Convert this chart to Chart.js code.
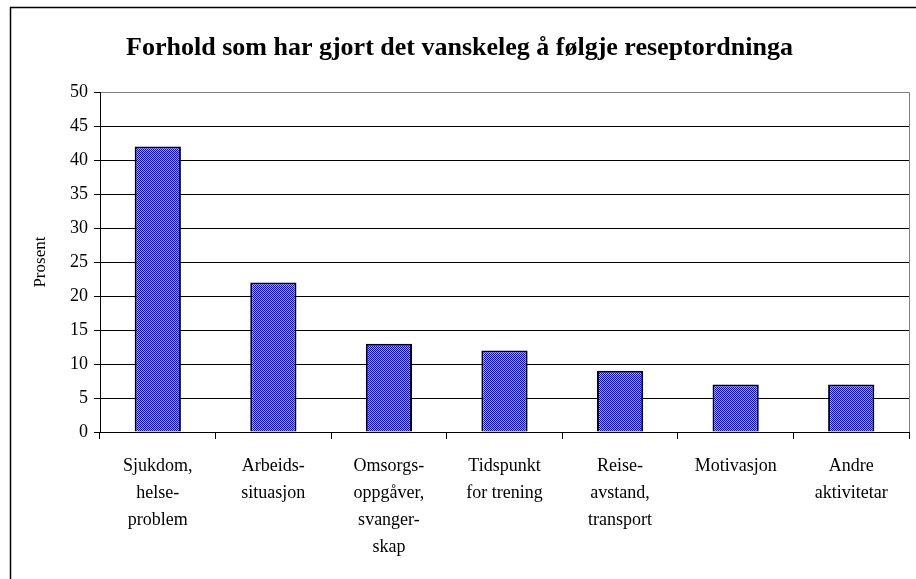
<!DOCTYPE html>
<html>
<head>
<meta charset="utf-8">
<script src="https://cdn.jsdelivr.net/npm/chart.js@4/dist/chart.umd.min.js"></script>
<style>
  html, body { margin: 0; padding: 0; background: #fff; }
  canvas { display: block; }
</style>
</head>
<body>
<canvas id="chart" width="916" height="579"></canvas>
<script>
const categories = [
    ['Sjukdom,', 'helse-', 'problem'],
    ['Arbeids-', 'situasjon'],
    ['Omsorgs-', 'oppgåver,', 'svanger-', 'skap'],
    ['Tidspunkt', 'for trening'],
    ['Reise-', 'avstand,', 'transport'],
    ['Motivasjon'],
    ['Andre', 'aktivitetar'],
];
const prosent = [42, 22, 13, 12, 9, 7, 7];
const yMax = 50;
const yStep = 5;

const serif = "'Liberation Serif', 'Times New Roman', serif";

// blått rutemønster som i originalen
function makePattern() {
    const tile = document.createElement('canvas');
    tile.width = 4;
    tile.height = 4;
    const t = tile.getContext('2d');
    t.fillStyle = '#0000ff';
    t.fillRect(0, 0, 4, 4);
    t.fillStyle = '#b4b4ff';
    for (let y = 0; y < 4; y++) {
        for (let x = 0; x < 4; x++) {
            if ((x + y) % 2 === 1) t.fillRect(x, y, 1, 1);
        }
    }
    return document.getElementById('chart').getContext('2d').createPattern(tile, 'repeat');
}

const frame = {
    id: 'frame',
    beforeDraw(chart) {
        const { ctx } = chart;
        ctx.save();
        ctx.fillStyle = '#fff';
        ctx.fillRect(0, 0, chart.width, chart.height);
        ctx.strokeStyle = '#000';
        ctx.lineWidth = 1.5;
        ctx.strokeRect(10.5, 7.5, 940, 620);
        ctx.restore();
    },
    afterDraw(chart) {
        const { ctx, chartArea: a } = chart;
        ctx.save();
        ctx.strokeStyle = '#808080';
        ctx.lineWidth = 1;
        ctx.beginPath();
        ctx.moveTo(Math.round(a.right) + 0.5, a.top);
        ctx.lineTo(Math.round(a.right) + 0.5, a.bottom);
        ctx.stroke();
        ctx.restore();
    },
};

new Chart(document.getElementById('chart'), {
    type: 'bar',
    data: {
        labels: categories,
        datasets: [{
            data: prosent,
            backgroundColor: makePattern(),
            borderColor: '#000',
            borderWidth: 2,
            barPercentage: 0.4,
            categoryPercentage: 1,
        }],
    },
    options: {
        responsive: false,
        animation: false,
        layout: { padding: { left: 10, right: 7, top: 0, bottom: 0 } },
        plugins: {
            legend: { display: false },
            tooltip: { enabled: false },
            title: {
                display: true,
                text: 'Forhold som har gjort det vanskeleg å følgje reseptordninga',
                color: '#000',
                font: { family: serif, size: 26, weight: 'bold', lineHeight: 1.2 },
                padding: { top: 33, bottom: 28 },
            },
        },
        scales: {
            x: {
                afterFit(scale) { scale.height = 147; },
                grid: {
                    offset: true,
                    drawOnChartArea: false,
                    color: '#000',
                    tickLength: 7,
                },
                border: { color: '#000', width: 1 },
                ticks: {
                    color: '#000',
                    padding: 13.5,
                    maxRotation: 0,
                    autoSkip: false,
                    font: { family: serif, size: 18, lineHeight: 1.5 },
                },
            },
            y: {
                min: 0,
                max: yMax,
                afterFit(scale) { scale.width = 90; },
                grid: {
                    color: (c) => (c.tick && c.tick.value === yMax ? '#808080' : '#000'),
                    tickColor: '#000',
                    tickLength: 6,
                },
                border: { color: '#000', width: 1 },
                ticks: {
                    stepSize: yStep,
                    color: '#000',
                    padding: 6,
                    font: { family: serif, size: 18 },
                },
                title: {
                    display: true,
                    text: 'Prosent',
                    color: '#000',
                    font: { family: serif, size: 17, lineHeight: 1.2 },
                    padding: { top: 20, bottom: 0 },
                },
            },
        },
    },
    plugins: [frame],
});
</script>
</body>
</html>
